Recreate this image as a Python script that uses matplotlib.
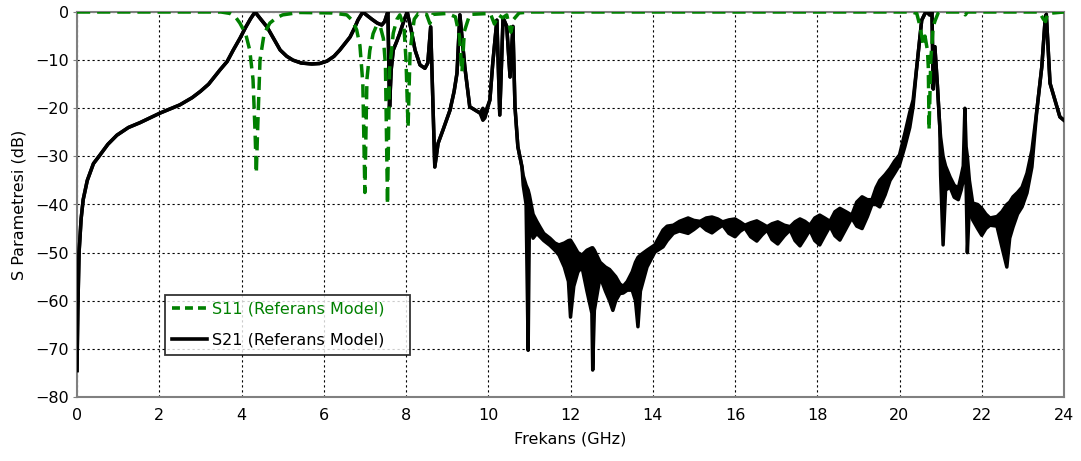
import matplotlib
matplotlib.use("Agg")
import matplotlib.pyplot as plt
import numpy as np

# ---------------- data ----------------
# S21: frequency, upper envelope, lower envelope (equal where the trace is thin)
s21_freq = [0.0, 0.02, 0.05, 0.1, 0.15, 0.25, 0.4, 0.56, 0.75, 0.97, 1.25, 1.53, 2.02, 2.5, 2.8,
            3.0, 3.2, 3.48, 3.65, 3.8, 3.96, 4.1, 4.22, 4.33, 4.45, 4.62, 4.8, 4.94, 5.1, 5.25,
            5.45, 5.71, 5.9, 6.08, 6.25, 6.39, 6.52, 6.64, 6.75, 6.83, 6.95, 7.05, 7.17, 7.3,
            7.41, 7.48, 7.54, 7.56, 7.6, 7.64, 7.69, 7.78, 7.85, 7.95, 8.03, 8.12, 8.22, 8.34,
            8.46, 8.53, 8.6, 8.7, 8.78, 8.9, 9.07, 9.17, 9.24, 9.31, 9.37, 9.43, 9.55, 9.8,
            9.87, 9.92, 10.04, 10.11, 10.21, 10.28, 10.36, 10.45, 10.53, 10.6, 10.65, 10.72,
            10.82, 10.85, 10.92, 10.97, 11.0, 11.09, 11.18, 11.26, 11.35, 11.5, 11.62, 11.72,
            11.85, 11.95, 12.0, 12.08, 12.18, 12.28, 12.4, 12.52, 12.54, 12.58, 12.72, 12.85,
            12.95, 13.03, 13.1, 13.2, 13.28, 13.38, 13.5, 13.58, 13.64, 13.7, 13.86, 14.05,
            14.25, 14.35, 14.5, 14.65, 14.86, 15.0, 15.15, 15.3, 15.44, 15.58, 15.7, 15.85,
            16.0, 16.12, 16.24, 16.38, 16.53, 16.66, 16.78, 16.9, 17.04, 17.2, 17.34, 17.46,
            17.58, 17.7, 17.82, 17.94, 18.06, 18.18, 18.31, 18.43, 18.55, 18.7, 18.84, 18.96,
            19.09, 19.22, 19.33, 19.43, 19.52, 19.65, 19.77, 19.88, 20.0, 20.13, 20.25, 20.33,
            20.42, 20.54, 20.62, 20.67, 20.73, 20.79, 20.82, 20.86, 20.92, 20.98, 21.0, 21.06,
            21.12, 21.23, 21.33, 21.43, 21.5, 21.55, 21.59, 21.62, 21.65, 21.7, 21.78, 21.9,
            22.0, 22.1, 22.2, 22.37, 22.49, 22.61, 22.68, 22.76, 22.87, 22.98, 23.1, 23.22,
            23.34, 23.46, 23.54, 23.57, 23.66, 23.78, 23.9, 24.0]
s21_upper = [-74.5, -62, -50, -43, -39, -35, -31.5, -29.7, -27.5, -25.6, -24, -23, -21, -19.3, -17.8,
             -16.5, -15, -12, -10.3, -7.9, -5.5, -3.2, -1.4, 0, -1.3, -3.1, -5.8, -7.9, -9.2, -10,
             -10.6, -10.8, -10.7, -10.2, -9.2, -7.9, -6.5, -5.2, -3.3, -1.7, 0, -0.7, -1.5, -2.3,
             -2.7, -2, -0.4, 0, -19.7, -12, -7.9, -6, -4.4, -1.8, 0, -3.5, -7.9, -11,
             -11.7, -10.6, -3.1, -32.2, -27.3, -24.5, -20.4, -16.5, -12.7, -0.6, -6, -11.4, -19.7, -21,
             -20, -21, -18.3, -10.6, -1.7, -21.4, -1.2, -3, -13.5, -3, -19.7, -28,
             -32.2, -34, -36, -37, -38, -42, -43.5, -44.7, -46, -47, -48, -48.4,
             -48, -47.5, -47.4, -48.5, -50, -50.5, -49.5, -49, -49, -49.5, -52, -53,
             -53.5, -54.3, -55, -56.5, -57, -56, -54, -52, -51, -50.5, -49.5, -48.4,
             -45.3, -44.5, -44.3, -43.5, -42.8, -43.3, -43.5, -42.8, -42.6, -43, -43.6, -43.2,
             -43, -43.6, -44.3, -43.8, -43.4, -44, -44.6, -44, -43.6, -44.3, -44.6, -43.6,
             -43, -43.5, -44.3, -42.8, -42.2, -42.8, -43.5, -41.5, -40.8, -41.5, -42.2, -39.5,
             -38.4, -39, -39, -36.5, -35, -33.8, -32.5, -31, -29.7, -25.2, -20.8, -18.3,
             -11.4, -1.7, -0.3, 0, -0.6, 0, -16, -7.2, -15, -23.9, -26, -30,
             -32, -34.3, -36, -36.6, -34, -32, -20, -28, -30, -35, -39.7, -40,
             -40.8, -42, -42.8, -42.5, -41.5, -40, -39.5, -38.4, -37.5, -36.4, -33.5, -28.7,
             -20.4, -11.4, -1.7, -0.5, -14.8, -18.3, -21.8, -22.5]
s21_lower = [-74.5, -62, -50, -43, -39, -35, -31.5, -29.7, -27.5, -25.6, -24, -23, -21, -19.3, -17.8,
             -16.5, -15, -12, -10.3, -7.9, -5.5, -3.2, -1.4, 0, -1.3, -3.1, -5.8, -7.9, -9.2, -10,
             -10.6, -10.8, -10.7, -10.2, -9.2, -7.9, -6.5, -5.2, -3.3, -1.7, 0, -0.7, -1.5, -2.3,
             -2.7, -2, -0.4, 0, -19.7, -12, -7.9, -6, -4.4, -1.8, 0, -3.5, -7.9, -11,
             -11.7, -10.6, -3.1, -32.2, -27.3, -24.5, -20.4, -16.5, -12.7, -0.6, -6, -11.4, -19.7, -21,
             -22.5, -22, -18.3, -10.6, -1.7, -21.4, -1.2, -3, -13.5, -3, -19.7, -28,
             -32.2, -36, -40, -70.3, -44, -47, -46, -46.7, -47.5, -48.5, -49.5, -50.5,
             -53, -56, -63.4, -57, -54, -53, -58, -62.6, -74.4, -62, -55, -58,
             -60, -62, -60, -58.5, -58.4, -57.8, -57.8, -60, -65.4, -58, -53, -49.9,
             -48.8, -47.5, -46, -45.5, -46, -45.2, -44.2, -45.3, -45.9, -45, -44.3, -46,
             -46.7, -45.6, -44.9, -46.7, -47.6, -46.3, -45.3, -47.3, -48.2, -46.5, -45.3, -47.5,
             -48.6, -47, -45.3, -47.5, -48.4, -46.5, -44.5, -46.5, -47.4, -45, -42.8, -44.5,
             -45, -42.5, -40, -40, -40.5, -38, -35, -33.5, -31.8, -28, -24, -19.7,
             -11.4, -1.7, -0.3, 0, -0.6, 0, -16, -7.2, -15, -23.9, -34, -48.4,
             -37, -36.4, -38.5, -39, -37, -35, -33, -36, -50, -40, -43.2, -45,
             -46.4, -45, -44.3, -44.5, -48.8, -53, -47, -44.7, -42, -40.5, -37.6, -32.2,
             -20.4, -11.4, -1.7, -0.5, -14.8, -18.3, -21.8, -22.5]

# S11
s11_freq = [0.0, 3.5, 3.72, 3.85, 3.96, 4.1, 4.2, 4.28, 4.33, 4.36, 4.39, 4.45, 4.55, 4.69, 4.85,
            5.0, 5.4, 6.2, 6.56, 6.7, 6.8, 6.88, 6.95, 7.0, 7.05, 7.12, 7.2, 7.29, 7.38, 7.45,
            7.5, 7.55, 7.6, 7.69, 7.78, 7.85, 7.95, 8.0, 8.05, 8.1, 8.2, 8.3, 8.5, 8.58, 8.65,
            9.0, 9.2, 9.3, 9.36, 9.42, 9.55, 10.05, 10.15, 10.25, 10.35, 10.45, 10.55, 10.62,
            10.75, 11.0, 20.3, 20.42, 20.5, 20.57, 20.62, 20.68, 20.7, 20.72, 20.76, 20.82,
            20.87, 20.95, 21.55, 21.6, 21.65, 23.4, 23.5, 23.55, 23.6, 24.0]
s11_db = [0, 0, -0.3, -1, -2.3, -4.5, -7.9, -14, -25, -33.5, -25, -10, -4.5, -2.3, -1.2,
          -0.6, -0.1, -0.2, -0.6, -1.8, -3.7, -7, -14.8, -37.5, -14, -8, -4.5, -2.7, -3.2, -5.5,
          -11, -40, -12, -4.4, -1.5, -0.6, -3, -10, -24, -8, -1.5, -0.3, -0.5, -2.4, -0.5,
          -0.3, -1, -5, -12.5, -4, -0.5, -0.3, -2.5, -0.6, -1.2, -0.6, -4.2, -1.5,
          -0.2, 0, 0, -0.3, -3, -6.5, -5, -8, -11.4, -24.5, -10, -3,
          -1.7, 0, 0, -0.6, 0, 0, -1.5, -2, -0.3, 0]

xticks = [0, 2, 4, 6, 8, 10, 12, 14, 16, 18, 20, 22, 24]
yticks = [0, -10, -20, -30, -40, -50, -60, -70, -80]
label_s11 = "S11 (Referans Model)"
label_s21 = "S21 (Referans Model)"

# ---------------- figure ----------------
plt.rcParams['font.family'] = ['DejaVu Sans']
fig = plt.figure(figsize=(10.81, 4.61), dpi=100)
ax = fig.add_axes([77 / 1081, 1 - 397 / 461, (1064 - 77) / 1081, (397 - 12) / 461])

green = '#008000'
ax.fill_between(s21_freq, s21_lower, s21_upper, color='black', lw=0, zorder=3)
ax.plot(s21_freq, s21_upper, color='black', lw=2.5, zorder=3, solid_joinstyle='round')
ax.plot(s21_freq, s21_lower, color='black', lw=2.5, zorder=3, solid_joinstyle='round')
ax.plot(s11_freq, s11_db, color=green, lw=2.5, dashes=(3.8, 2.0), zorder=4)

# legend handles
h11, = ax.plot([], [], color=green, lw=2.6, dashes=(2.2, 1.4))
h21, = ax.plot([], [], color='black', lw=2.6)
leg = ax.legend([h11, h21], [label_s11, label_s21], loc='lower left',
                bbox_to_anchor=(0.089, 0.109, 0.248, 0.164), mode='expand',
                fontsize=11.5, frameon=True, fancybox=False,
                edgecolor='black', handlelength=2.2, handletextpad=0.3, borderpad=0.45,
                labelspacing=1.0, borderaxespad=0)
leg.get_frame().set_linewidth(1.3)
leg.get_texts()[0].set_color(green)
leg.get_texts()[1].set_color('black')

ax.set_xlim(0, 24)
ax.set_ylim(-80, 0)
ax.set_xticks(xticks)
ax.set_yticks(yticks)
ax.grid(True, color='black', lw=0.8, linestyle=(0, (2, 2.5)))
ax.set_axisbelow(True)
for s in ax.spines.values():
    s.set_color('#808080')
    s.set_linewidth(1.5)
ax.tick_params(axis='both', labelsize=11.5, colors='#808080', labelcolor='black')
ax.tick_params(axis='x', length=0, pad=8)
ax.tick_params(axis='y', length=3, pad=3)
ax.set_xlabel('Frekans (GHz)', fontsize=11.5, labelpad=6)
ax.set_ylabel('S Parametresi (dB)', fontsize=11.5, labelpad=6)

fig.savefig('out.png', dpi=100)
